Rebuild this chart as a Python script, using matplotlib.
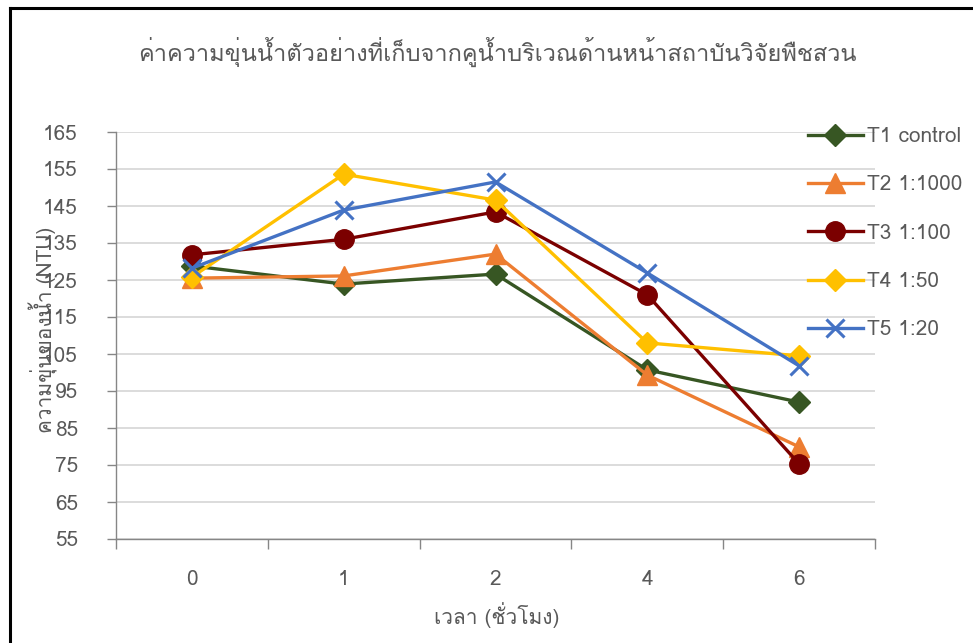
import matplotlib
matplotlib.use("Agg")
import matplotlib.pyplot as plt
from matplotlib import font_manager
from matplotlib.ft2font import FT2Font
from matplotlib.lines import Line2D

# turbidity data
hours = ["0", "1", "2", "4", "6"]
t1_control = [128.8, 123.9, 126.6, 100.7, 92.0]
t2_1000 = [125.5, 126.1, 132.0, 99.3, 79.9]
t3_100 = [131.8, 136.0, 143.4, 121.0, 75.3]
t4_50 = [125.8, 153.6, 146.6, 108.0, 104.5]
t5_20 = [128.2, 143.9, 151.5, 126.9, 101.8]
series_names = ["T1 control", "T2 1:1000", "T3 1:100", "T4 1:50", "T5 1:20"]
y_ticks = list(range(55, 166, 10))

title = "ค่าความขุ่นน้ำตัวอย่างที่เก็บจากคูน้ำบริเวณด้านหน้าสถาบันวิจัยพืชสวน"
xlabel = "เวลา (ชั่วโมง)"
ylabel = "ความขุ่นของน้ำ (NTU)"


def find_thai_family():
    seen = set()
    for f in font_manager.fontManager.ttflist:
        if f.name in seen:
            continue
        try:
            cmap = FT2Font(f.fname).get_charmap()
        except Exception:
            continue
        if 0x0E04 in cmap and 0x0E33 in cmap:
            return f.name
        seen.add(f.name)
    return None


thai = find_thai_family()
families = ([thai] if thai else []) + ["DejaVu Sans"]
plt.rcParams["font.family"] = families

TEXT = "#595959"
GRID = "#d9d9d9"
AXIS = "#868686"

fig = plt.figure(figsize=(9.73, 6.43), dpi=100)
ax = fig.add_axes([116 / 973, 1 - 539 / 643, (875 - 116) / 973, (539 - 132) / 643])

x = list(range(len(hours)))
styles = [
    (t1_control, "#375623", "D", 11),
    (t2_1000, "#ED7D31", "^", 14),
    (t3_100, "#7B0000", "o", 14),
    (t4_50, "#FFC000", "D", 11),
    (t5_20, "#4472C4", "x", 13),
]
handles = []
for (vals, col, mk, ms), name in zip(styles, series_names):
    mew = 2.2 if mk == "x" else 1
    line, = ax.plot(x, vals, color=col, lw=2.4, marker=mk, ms=ms,
                    markeredgewidth=mew, markeredgecolor=col, markerfacecolor=col,
                    label=name, zorder=3)
    handles.append(line)

ax.set_xlim(-0.5, len(hours) - 0.5)
ax.set_ylim(55, 165)
ax.set_yticks(y_ticks)
ax.set_xticks(x)
ax.set_xticklabels(hours)
ax.set_xticks([i - 0.5 for i in range(len(hours) + 1)], minor=True)
ax.tick_params(axis="x", which="major", length=0, pad=22, labelsize=15, labelcolor=TEXT)
ax.tick_params(axis="x", which="minor", length=7, direction="out", color=AXIS, width=1)
ax.tick_params(axis="y", length=6.5, direction="out", color=AXIS, width=1,
               labelsize=15, labelcolor=TEXT, pad=21)
ax.grid(axis="y", color=GRID, lw=1.3)
ax.set_axisbelow(True)
for s in ["top", "right"]:
    ax.spines[s].set_visible(False)
for s in ["left", "bottom"]:
    ax.spines[s].set_color(AXIS)
    ax.spines[s].set_linewidth(1)

fig.text(497 / 973, 1 - 615 / 643, xlabel, fontsize=15, color=TEXT, ha="center", va="center")
# the y label sits over the tick labels, as in the reference
fig.text(43 / 973, 1 - 330 / 643, ylabel, rotation=90, fontsize=15, color=TEXT,
         ha="center", va="center")
fig.text(497 / 973, 1 - 52 / 643, title, fontsize=17, color=TEXT, ha="center", va="center")

leg = fig.legend(handles=handles, loc="upper left", bbox_to_anchor=(800 / 973, 1 - 119 / 643),
                 frameon=False, fontsize=15, labelcolor=TEXT, handlelength=2.6,
                 handletextpad=0.2, labelspacing=1.4, borderaxespad=0)

# chart frame (left and top edges visible in the reference)
fig.add_artist(Line2D([10 / 973, 10 / 973], [0, 1 - 8 / 643], color="black", lw=2.2,
                      transform=fig.transFigure))
fig.add_artist(Line2D([10 / 973, 1], [1 - 8 / 643, 1 - 8 / 643], color="black", lw=2.2,
                      transform=fig.transFigure))

fig.savefig("out.png", dpi=100)
